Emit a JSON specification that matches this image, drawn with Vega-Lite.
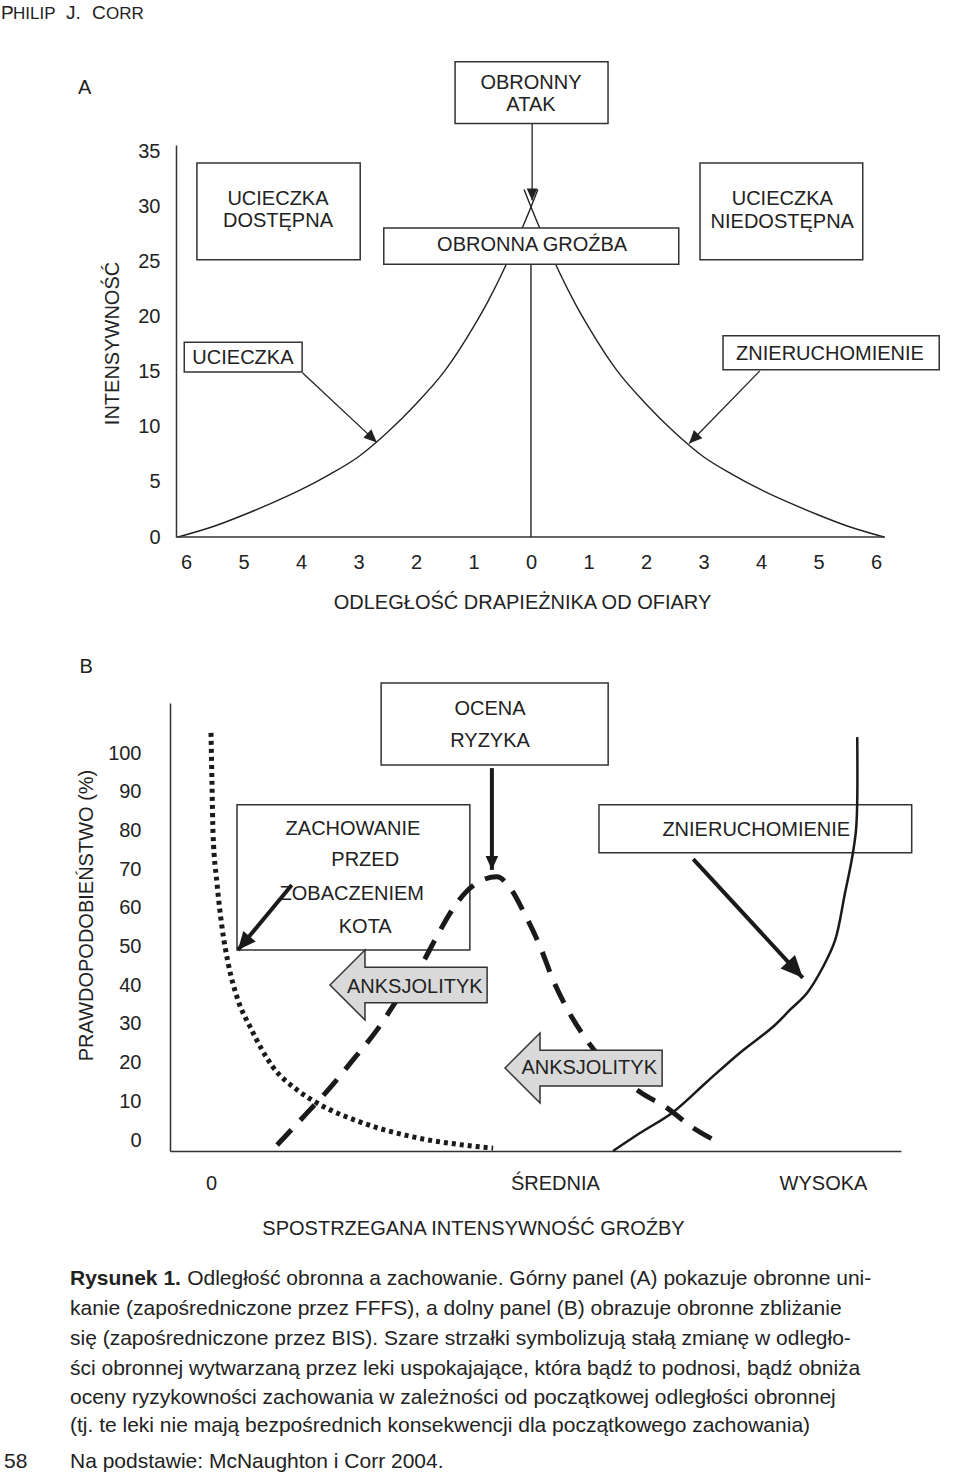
{
  "$schema": "https://vega.github.io/schema/vega-lite/v6.json",
  "padding": {"left": 1, "top": 4, "right": 0, "bottom": 0},
  "background": "white",
  "spacing": 166,
  "bounds": "flush",
  "config": {
    "view": {"stroke": null},
    "axis": {
      "grid": false, "ticks": false, "tickSize": 0,
      "labelFont": "Liberation Sans", "labelFontSize": 20, "labelColor": "#222",
      "labelOverlap": false, "labelFlush": false, "labelBound": false,
      "domainColor": "#333", "domainWidth": 1.5,
      "titleFont": "Liberation Sans", "titleFontSize": 20, "titleFontWeight": "normal", "titleColor": "#222",
      "titleBaseline": "middle", "titleAlign": "center"
    }
  },
  "datasets": {
    "curveA": [
      {"b": "L", "u": -6.14, "v": 0}, {"b": "L", "u": -5.5, "v": 1.0}, {"b": "L", "u": -5, "v": 2.0},
      {"b": "L", "u": -4.5, "v": 3.1}, {"b": "L", "u": -4, "v": 4.3}, {"b": "L", "u": -3.5, "v": 5.7},
      {"b": "L", "u": -3, "v": 7.3}, {"b": "L", "u": -2.5, "v": 9.5}, {"b": "L", "u": -2, "v": 12.1},
      {"b": "L", "u": -1.5, "v": 15.1}, {"b": "L", "u": -1, "v": 19.1}, {"b": "L", "u": -0.75, "v": 21.4},
      {"b": "L", "u": -0.5, "v": 24.0}, {"b": "L", "u": -0.25, "v": 26.9}, {"b": "L", "u": 0, "v": 30.0},
      {"b": "L", "u": 0.12, "v": 31.6},
      {"b": "R", "u": -0.12, "v": 31.6}, {"b": "R", "u": 0, "v": 30.0}, {"b": "R", "u": 0.25, "v": 26.9},
      {"b": "R", "u": 0.5, "v": 24.0}, {"b": "R", "u": 0.75, "v": 21.4}, {"b": "R", "u": 1, "v": 19.1},
      {"b": "R", "u": 1.5, "v": 15.1}, {"b": "R", "u": 2, "v": 12.1}, {"b": "R", "u": 2.5, "v": 9.5},
      {"b": "R", "u": 3, "v": 7.3}, {"b": "R", "u": 3.5, "v": 5.7}, {"b": "R", "u": 4, "v": 4.3},
      {"b": "R", "u": 4.5, "v": 3.1}, {"b": "R", "u": 5, "v": 2.0}, {"b": "R", "u": 5.5, "v": 1.0},
      {"b": "R", "u": 6.14, "v": 0}
    ],
    "rulesA": [
      {"u": 0, "v": 0, "u2": 0, "v2": 24.8},
      {"u": -6.174, "v": 0, "u2": 6.157, "v2": 0}
    ],
    "boxesA": [
      {"u": -1.32, "u2": 1.34, "v": 37.6, "v2": 43.2},
      {"u": -5.81, "u2": -2.97, "v": 25.2, "v2": 34.0},
      {"u": -2.56, "u2": 2.57, "v": 24.8, "v2": 28.1},
      {"u": 2.94, "u2": 5.77, "v": 25.2, "v2": 34.0},
      {"u": -6.03, "u2": -3.98, "v": 15.0, "v2": 17.7},
      {"u": 3.34, "u2": 7.10, "v": 15.2, "v2": 18.3}
    ],
    "textA": [
      {"t": "OBRONNY", "u": 0.0, "v": 41.3},
      {"t": "ATAK", "u": 0.0, "v": 39.3},
      {"t": "UCIECZKA", "u": -4.40, "v": 30.7},
      {"t": "DOSTĘPNA", "u": -4.40, "v": 28.75},
      {"t": "OBRONNA GROŹBA", "u": 0.02, "v": 26.5},
      {"t": "UCIECZKA", "u": 4.37, "v": 30.7},
      {"t": "NIEDOSTĘPNA", "u": 4.37, "v": 28.65},
      {"t": "UCIECZKA", "u": -5.01, "v": 16.3},
      {"t": "ZNIERUCHOMIENIE", "u": 5.20, "v": 16.65},
      {"t": "A", "u": -7.76, "v": 40.8}
    ],
    "arrowsA": [
      {"id": "atak", "u": 0.02, "v": 37.6, "u2": 0.02, "v2": 30.6},
      {"id": "uc", "u": -3.97, "v": 14.9, "u2": -2.68, "v2": 8.6},
      {"id": "zn", "u": 3.98, "v": 15.1, "u2": 2.75, "v2": 8.5}
    ],
    "headCaps": [
      {"t": "P", "u": -9.217, "v": 47.09},
      {"t": "J.", "u": -8.087, "v": 47.09},
      {"t": "C", "u": -7.635, "v": 47.09}
    ],
    "headSmall": [
      {"t": "HILIP", "u": -9.009, "v": 47.09},
      {"t": "ORR", "u": -7.391, "v": 47.09}
    ],
    "boxesB": [
      {"u": 2.78, "u2": 6.49, "v": 96.9, "v2": 118.1},
      {"u": 0.425, "u2": 4.23, "v": 49.1, "v2": 86.6},
      {"u": 6.34, "u2": 11.45, "v": 74.2, "v2": 86.6}
    ],
    "dotted": [
      {"u": 0.0, "v": 105.2}, {"u": 0.016, "v": 92.2}, {"u": 0.033, "v": 79.3}, {"u": 0.098, "v": 66.4},
      {"u": 0.18, "v": 55.0}, {"u": 0.28, "v": 45.7}, {"u": 0.44, "v": 36.2}, {"u": 0.64, "v": 29.2},
      {"u": 1.01, "v": 18.9}, {"u": 1.41, "v": 12.9}, {"u": 1.73, "v": 9.6}, {"u": 2.48, "v": 4.4},
      {"u": 3.30, "v": 0.8}, {"u": 4.12, "v": -1.3}, {"u": 4.61, "v": -2.1}
    ],
    "bell": [
      {"u": 1.08, "v": -1.3}, {"u": 1.57, "v": 7.0}, {"u": 1.94, "v": 13.4}, {"u": 2.32, "v": 20.7},
      {"u": 2.71, "v": 28.4}, {"u": 3.04, "v": 36.2}, {"u": 3.42, "v": 44.7}, {"u": 3.66, "v": 51.7},
      {"u": 3.91, "v": 58.7}, {"u": 4.15, "v": 63.8}, {"u": 4.40, "v": 66.9}, {"u": 4.67, "v": 68.0},
      {"u": 4.89, "v": 65.1}, {"u": 5.10, "v": 59.2}, {"u": 5.38, "v": 49.9}, {"u": 5.59, "v": 41.3},
      {"u": 5.83, "v": 33.6}, {"u": 6.14, "v": 25.8}, {"u": 6.52, "v": 18.6}, {"u": 7.01, "v": 12.4},
      {"u": 7.45, "v": 8.3}, {"u": 7.88, "v": 3.1}, {"u": 8.32, "v": -0.8}
    ],
    "solid": [
      {"i": 0, "u": 6.57, "v": -2.84}, {"i": 1, "u": 7.01, "v": 1.8}, {"i": 2, "u": 7.55, "v": 7.2},
      {"i": 3, "u": 8.10, "v": 15.0}, {"i": 4, "u": 8.64, "v": 22.5}, {"i": 5, "u": 9.18, "v": 29.2},
      {"i": 6, "u": 9.46, "v": 33.6}, {"i": 7, "u": 9.74, "v": 38.0}, {"i": 8, "u": 10.0, "v": 44.7},
      {"i": 9, "u": 10.20, "v": 51.7}, {"i": 10, "u": 10.36, "v": 63.8}, {"i": 11, "u": 10.47, "v": 72.4},
      {"i": 12, "u": 10.54, "v": 80.1}, {"i": 13, "u": 10.56, "v": 87.9}, {"i": 14, "u": 10.56, "v": 104.1}
    ],
    "grayArrows": [
      {"u": 1.944, "v": 40.05},
      {"u": 4.804, "v": 18.6}
    ],
    "textB": [
      {"t": "OCENA", "u": 4.56, "v": 111.4},
      {"t": "RYZYKA", "u": 4.56, "v": 103.1},
      {"t": "ZACHOWANIE", "u": 2.32, "v": 80.4},
      {"t": "PRZED", "u": 2.52, "v": 72.4},
      {"t": "ZOBACZENIEM", "u": 2.30, "v": 63.6},
      {"t": "KOTA", "u": 2.52, "v": 55.0},
      {"t": "ZNIERUCHOMIENIE", "u": 8.91, "v": 80.1},
      {"t": "ANKSJOLITYK", "u": 3.33, "v": 39.5},
      {"t": "ANKSJOLITYK", "u": 6.18, "v": 18.6},
      {"t": "B", "u": -2.04, "v": 122.2}
    ],
    "arrowsB": [
      {"id": "zach", "u": 1.32, "v": 65.9, "u2": 0.44, "v2": 49.1},
      {"id": "ocena", "u": 4.59, "v": 96.1, "u2": 4.59, "v2": 69.8},
      {"id": "znier", "u": 7.88, "v": 72.6, "u2": 9.67, "v2": 41.9}
    ],
    "caption": [
      {"t": "Odległość obronna a zachowanie. Górny panel (A) pokazuje obronne uni-", "u": -0.39, "v": -35.9},
      {"t": "kanie (zapośredniczone przez FFFS), a dolny panel (B) obrazuje obronne zbliżanie", "u": -2.304, "v": -43.7},
      {"t": "się (zapośredniczone przez BIS). Szare strzałki symbolizują stałą zmianę w odległo-", "u": -2.304, "v": -51.4},
      {"t": "ści obronnej wytwarzaną przez leki uspokajające, która bądź to podnosi, bądź obniża", "u": -2.304, "v": -59.2},
      {"t": "oceny ryzykowności zachowania w zależności od początkowej odległości obronnej", "u": -2.304, "v": -66.7},
      {"t": "(tj. te leki nie mają bezpośrednich konsekwencji dla początkowego zachowania)", "u": -2.304, "v": -73.9},
      {"t": "58", "u": -3.382, "v": -83.2},
      {"t": "Na podstawie: McNaughton i Corr 2004.", "u": -2.304, "v": -83.2}
    ],
    "captionBold": [
      {"t": "Rysunek 1.", "u": -2.304, "v": -35.9}
    ]
  },
  "vconcat": [
    {
      "width": 715,
      "height": 392,
      "encoding": {
        "x": {
          "field": "u", "type": "quantitative",
          "scale": {"domain": [-6.278, 6.157], "nice": false, "zero": false},
          "axis": {
            "values": [-6, -5, -4, -3, -2, -1, 0, 1, 2, 3, 4, 5, 6],
            "labelExpr": "'' + abs(datum.value)",
            "domain": false, "labelPadding": 15,
            "title": "ODLEGŁOŚĆ DRAPIEŻNIKA OD OFIARY", "titleX": 352, "titleY": 65
          }
        },
        "y": {
          "field": "v", "type": "quantitative",
          "scale": {"domain": [0, 35.636], "nice": false, "zero": false},
          "axis": {
            "values": [0, 5, 10, 15, 20, 25, 30, 35],
            "offset": -6, "labelPadding": 16,
            "title": "INTENSYWNOŚĆ", "titleX": -64, "titleY": 198, "titleAngle": -90
          }
        }
      },
      "layer": [
        {
          "data": {"name": "curveA"},
          "mark": {"type": "line", "stroke": "#222", "strokeWidth": 1.4, "interpolate": "monotone"},
          "encoding": {"detail": {"field": "b"}}
        },
        {
          "data": {"name": "rulesA"},
          "mark": {"type": "rule", "stroke": "#333", "strokeWidth": 1.5},
          "encoding": {"x2": {"field": "u2"}, "y2": {"field": "v2"}}
        },
        {
          "data": {"name": "boxesA"},
          "mark": {"type": "rect", "fill": "white", "stroke": "#333", "strokeWidth": 1.5},
          "encoding": {"x2": {"field": "u2"}, "y2": {"field": "v2"}}
        },
        {
          "data": {"name": "textA"},
          "mark": {"type": "text", "font": "Liberation Sans", "fontSize": 20, "fill": "#222", "align": "center", "baseline": "middle"},
          "encoding": {"text": {"field": "t"}}
        },
        {
          "data": {"name": "arrowsA"},
          "mark": {"type": "rule", "stroke": "#222", "strokeWidth": 1.3},
          "encoding": {"x2": {"field": "u2"}, "y2": {"field": "v2"}}
        },
        {
          "data": {"name": "arrowsA"},
          "transform": [{"filter": "datum.id == 'atak'"}],
          "mark": {"type": "point", "shape": "M0,0 L-0.45,1 L0.45,1 Z", "size": 576, "angle": 180, "filled": true, "fill": "#222", "strokeWidth": 0, "opacity": 1},
          "encoding": {"x": {"field": "u2", "type": "quantitative"}, "y": {"field": "v2", "type": "quantitative"}}
        },
        {
          "data": {"name": "arrowsA"},
          "transform": [{"filter": "datum.id == 'uc'"}],
          "mark": {"type": "point", "shape": "M0,0 L-0.45,1 L0.45,1 Z", "size": 676, "angle": 133, "filled": true, "fill": "#222", "strokeWidth": 0, "opacity": 1},
          "encoding": {"x": {"field": "u2", "type": "quantitative"}, "y": {"field": "v2", "type": "quantitative"}}
        },
        {
          "data": {"name": "arrowsA"},
          "transform": [{"filter": "datum.id == 'zn'"}],
          "mark": {"type": "point", "shape": "M0,0 L-0.45,1 L0.45,1 Z", "size": 676, "angle": 224, "filled": true, "fill": "#222", "strokeWidth": 0, "opacity": 1},
          "encoding": {"x": {"field": "u2", "type": "quantitative"}, "y": {"field": "v2", "type": "quantitative"}}
        },
        {
          "data": {"name": "headCaps"},
          "mark": {"type": "text", "font": "Liberation Sans", "fontSize": 19, "fill": "#222", "align": "left", "baseline": "alphabetic"},
          "encoding": {"text": {"field": "t"}}
        },
        {
          "data": {"name": "headSmall"},
          "mark": {"type": "text", "font": "Liberation Sans", "fontSize": 17, "fill": "#222", "align": "left", "baseline": "alphabetic"},
          "encoding": {"text": {"field": "t"}}
        }
      ]
    },
    {
      "width": 731,
      "height": 448,
      "encoding": {
        "x": {
          "field": "u", "type": "quantitative",
          "scale": {"domain": [-0.670, 11.275], "nice": false, "zero": false},
          "axis": {
            "values": [0, 5.62, 10],
            "labelExpr": "datum.value == 0 ? '0' : (datum.value < 8 ? 'ŚREDNIA' : 'WYSOKA')",
            "labelPadding": 22,
            "title": "SPOSTRZEGANA INTENSYWNOŚĆ GROŹBY", "titleX": 303, "titleY": 77
          }
        },
        "y": {
          "field": "v", "type": "quantitative",
          "scale": {"domain": [-2.84, 112.92], "nice": false, "zero": false},
          "axis": {
            "values": [0, 10, 20, 30, 40, 50, 60, 70, 80, 90, 100],
            "labelPadding": 29,
            "title": "PRAWDOPODOBIEŃSTWO (%)", "titleX": -84, "titleY": 212, "titleAngle": -90
          }
        }
      },
      "layer": [
        {
          "data": {"name": "boxesB"},
          "mark": {"type": "rect", "fill": "transparent", "stroke": "#333", "strokeWidth": 1.5},
          "encoding": {"x2": {"field": "u2"}, "y2": {"field": "v2"}}
        },
        {
          "data": {"name": "dotted"},
          "mark": {"type": "line", "stroke": "#1a1a1a", "strokeWidth": 5, "strokeDash": [4, 4], "interpolate": "monotone"}
        },
        {
          "data": {"name": "bell"},
          "mark": {"type": "line", "stroke": "#1a1a1a", "strokeWidth": 5, "strokeDash": [21, 13], "interpolate": "monotone"}
        },
        {
          "data": {"name": "solid"},
          "mark": {"type": "line", "stroke": "#1a1a1a", "strokeWidth": 2.5, "interpolate": "catmull-rom"},
          "encoding": {"order": {"field": "i", "type": "quantitative"}}
        },
        {
          "data": {"name": "grayArrows"},
          "mark": {"type": "point", "shape": "M0,0 L1,-1 L1,-0.51 L4.49,-0.51 L4.49,0.51 L1,0.51 L1,1 Z", "size": 4900, "filled": true, "fill": "#d9d9d9", "stroke": "#333", "strokeWidth": 1.5, "opacity": 1}
        },
        {
          "data": {"name": "textB"},
          "mark": {"type": "text", "font": "Liberation Sans", "fontSize": 20, "fill": "#222", "align": "center", "baseline": "middle"},
          "encoding": {"text": {"field": "t"}}
        },
        {
          "data": {"name": "arrowsB"},
          "mark": {"type": "rule", "stroke": "#1a1a1a", "strokeWidth": 4},
          "encoding": {"x2": {"field": "u2"}, "y2": {"field": "v2"}}
        },
        {
          "data": {"name": "arrowsB"},
          "transform": [{"filter": "datum.id == 'zach'"}],
          "mark": {"type": "point", "shape": "M0,0 L-0.45,1 L0.45,1 Z", "size": 1296, "angle": 220, "filled": true, "fill": "#1a1a1a", "strokeWidth": 0, "opacity": 1},
          "encoding": {"x": {"field": "u2", "type": "quantitative"}, "y": {"field": "v2", "type": "quantitative"}}
        },
        {
          "data": {"name": "arrowsB"},
          "transform": [{"filter": "datum.id == 'ocena'"}],
          "mark": {"type": "point", "shape": "M0,0 L-0.45,1 L0.45,1 Z", "size": 784, "angle": 180, "filled": true, "fill": "#1a1a1a", "strokeWidth": 0, "opacity": 1},
          "encoding": {"x": {"field": "u2", "type": "quantitative"}, "y": {"field": "v2", "type": "quantitative"}}
        },
        {
          "data": {"name": "arrowsB"},
          "transform": [{"filter": "datum.id == 'znier'"}],
          "mark": {"type": "point", "shape": "M0,0 L-0.45,1 L0.45,1 Z", "size": 1936, "angle": 137, "filled": true, "fill": "#1a1a1a", "strokeWidth": 0, "opacity": 1},
          "encoding": {"x": {"field": "u2", "type": "quantitative"}, "y": {"field": "v2", "type": "quantitative"}}
        },
        {
          "data": {"name": "caption"},
          "mark": {"type": "text", "font": "Liberation Sans", "fontSize": 21, "fill": "#222", "align": "left", "baseline": "middle"},
          "encoding": {"text": {"field": "t"}}
        },
        {
          "data": {"name": "captionBold"},
          "mark": {"type": "text", "font": "Liberation Sans", "fontSize": 21, "fontWeight": "bold", "fill": "#222", "align": "left", "baseline": "middle"},
          "encoding": {"text": {"field": "t"}}
        }
      ]
    }
  ]
}
